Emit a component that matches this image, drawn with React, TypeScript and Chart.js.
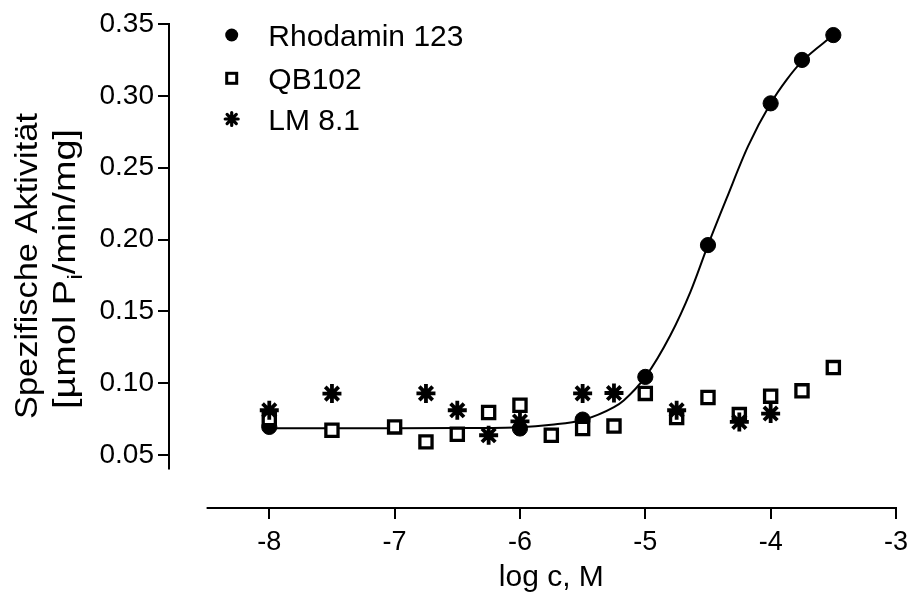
import React, { useEffect, useRef } from 'react';
import { Chart, registerables } from 'chart.js';

Chart.register(...registerables);

const FONT = "'Liberation Sans', Arial, sans-serif";

const X_TICKS = [-8, -7, -6, -5, -4, -3];
const Y_TICKS = [0.05, 0.1, 0.15, 0.2, 0.25, 0.3, 0.35];

const X_MIN = -8.8;
const X_MAX = -3;
const Y_MIN = 0.0133;
const Y_MAX = 0.35;
const X_AXIS_FROM = -8.5;
const Y_AXIS_FROM = 0.04;

const SERIES_NAMES = ['Rhodamin 123', 'QB102', 'LM 8.1'];

const RHOD_X = [-8, -6, -5.5, -5, -4.5, -4, -3.75, -3.5];
const RHOD_Y = [0.0697, 0.0686, 0.0748, 0.1045, 0.1962, 0.2948, 0.325, 0.3423];

const QB_X = [-8, -7.5, -7, -6.75, -6.5, -6.25, -6, -5.75, -5.5, -5.25, -5, -4.75, -4.5, -4.25, -4, -3.75, -3.5];
const QB_Y = [0.0755, 0.0674, 0.0697, 0.0593, 0.0646, 0.0797, 0.0848, 0.0639, 0.0686, 0.0703, 0.093, 0.0762, 0.0902, 0.0783, 0.0911, 0.0948, 0.111];

const LM_X = [-8, -7.5, -6.75, -6.5, -6.25, -6, -5.5, -5.25, -4.75, -4.25, -4];
const LM_Y = [0.0813, 0.0929, 0.093, 0.0813, 0.0639, 0.0735, 0.093, 0.0933, 0.0813, 0.0732, 0.079];

const FIT_X = [-8, -7, -6.5, -6, -5.75, -5.5, -5.25, -5.17, -5, -4.8, -4.64, -4.5, -4.35, -4.18, -4, -3.87, -3.75, -3.5];
const FIT_Y = [0.0688, 0.0688, 0.0689, 0.0695, 0.0712, 0.0745, 0.0835, 0.0883, 0.1045, 0.1335, 0.1637, 0.1962, 0.229, 0.265, 0.2948, 0.3115, 0.324, 0.3423];

const X_TITLE = 'log c, M';
const Y_TITLE_1 = 'Spezifische Aktivität';
const Y_TITLE_2_PRE = '[µmol P';
const Y_TITLE_2_SUB = 'i';
const Y_TITLE_2_POST = '/min/mg]';

const zip = (xs: number[], ys: number[]) => xs.map((x, i) => ({ x, y: ys[i] }));

const decorPlugin = {
  id: 'decor',
  afterDraw(chart: any) {
    const ctx: CanvasRenderingContext2D = chart.ctx;
    const { left, top, bottom } = chart.chartArea;
    const xs = chart.scales.x;
    const ys = chart.scales.y;
    ctx.save();
    ctx.strokeStyle = '#000';
    ctx.fillStyle = '#000';
    ctx.lineWidth = 2;
    const xa0 = xs.getPixelForValue(X_AXIS_FROM);
    const xa1 = xs.getPixelForValue(X_MAX);
    ctx.beginPath();
    ctx.moveTo(xa0, bottom);
    ctx.lineTo(xa1 + 1, bottom);
    ctx.stroke();
    ctx.beginPath();
    ctx.moveTo(left, ys.getPixelForValue(Y_AXIS_FROM));
    ctx.lineTo(left, ys.getPixelForValue(Y_MAX) - 1);
    ctx.stroke();

    ctx.font = `30px ${FONT}`;
    ctx.textAlign = 'center';
    ctx.textBaseline = 'alphabetic';
    ctx.fillText(X_TITLE, (xa0 + xa1) / 2, 586);

    const cy = (top + bottom) / 2;
    ctx.save();
    ctx.translate(37, cy);
    ctx.rotate(-Math.PI / 2);
    ctx.font = `31px ${FONT}`;
    const l1 = ctx.measureText(Y_TITLE_1).width;
    ctx.scale(306 / l1, 1);
    ctx.textAlign = 'center';
    ctx.fillText(Y_TITLE_1, 0, 0);
    ctx.restore();

    ctx.save();
    ctx.translate(75, cy + 3);
    ctx.rotate(-Math.PI / 2);
    ctx.textAlign = 'left';
    ctx.font = `31px ${FONT}`;
    const w1 = ctx.measureText(Y_TITLE_2_PRE).width;
    const w3 = ctx.measureText(Y_TITLE_2_POST).width;
    ctx.font = `21px ${FONT}`;
    const w2 = ctx.measureText(Y_TITLE_2_SUB).width;
    const total = w1 + w2 + w3;
    ctx.scale(280 / total, 1);
    let x0 = -total / 2;
    ctx.font = `31px ${FONT}`;
    ctx.fillText(Y_TITLE_2_PRE, x0, 0);
    x0 += w1;
    ctx.font = `21px ${FONT}`;
    ctx.fillText(Y_TITLE_2_SUB, x0, 7);
    x0 += w2;
    ctx.font = `31px ${FONT}`;
    ctx.fillText(Y_TITLE_2_POST, x0, 0);
    ctx.restore();

    const mx = 231.7;
    const tx = 268.3;
    const bases = [46, 89.3, 130];
    ctx.font = `30px ${FONT}`;
    ctx.textAlign = 'left';
    ctx.textBaseline = 'alphabetic';
    SERIES_NAMES.forEach((name, i) => {
      const b = bases[i];
      const my = b - 11;
      ctx.fillText(name, tx, b);
      if (i === 0) {
        ctx.beginPath();
        ctx.arc(mx, my, 6.5, 0, Math.PI * 2);
        ctx.fill();
      } else if (i === 1) {
        ctx.lineWidth = 3;
        ctx.strokeRect(mx - 5, my - 5, 10, 10);
      } else {
        ctx.lineWidth = 3.2;
        ctx.lineCap = 'round';
        ctx.beginPath();
        for (let k = 0; k < 4; k++) {
          const a = (k * Math.PI) / 4;
          ctx.moveTo(mx - Math.cos(a) * 6.5, my - Math.sin(a) * 6.5);
          ctx.lineTo(mx + Math.cos(a) * 6.5, my + Math.sin(a) * 6.5);
        }
        ctx.stroke();
      }
    });
    ctx.restore();
  },
};

const gridOpts = {
  display: true,
  drawOnChartArea: false,
  drawTicks: true,
  tickLength: 11,
  color: '#000',
  lineWidth: 2,
};

export default function App() {
  const ref = useRef<HTMLCanvasElement>(null);
  useEffect(() => {
    if (!ref.current) return;
    const chart = new Chart(ref.current, {
      type: 'scatter',
      data: {
        datasets: [
          {
            label: SERIES_NAMES[2],
            data: zip(LM_X, LM_Y),
            pointStyle: 'star',
            pointRadius: 9.5,
            borderWidth: 3.8,
            borderColor: '#000',
            backgroundColor: '#000',
            order: 0,
          },
          {
            label: SERIES_NAMES[1],
            data: zip(QB_X, QB_Y),
            pointStyle: 'rect',
            pointRadius: 8.6,
            borderWidth: 3.3,
            borderColor: '#000',
            backgroundColor: '#fff',
            order: 1,
          },
          {
            label: SERIES_NAMES[0],
            data: zip(RHOD_X, RHOD_Y),
            pointStyle: 'circle',
            pointRadius: 7.6,
            borderWidth: 1,
            borderColor: '#000',
            backgroundColor: '#000',
            order: 2,
          },
          {
            label: 'fit',
            data: zip(FIT_X, FIT_Y),
            showLine: true,
            pointRadius: 0,
            borderWidth: 2,
            borderColor: '#000',
            cubicInterpolationMode: 'monotone',
            fill: false,
            order: 3,
          } as any,
        ],
      },
      options: {
        responsive: false,
        animation: false,
        devicePixelRatio: 1,
        events: [],
        layout: { padding: { left: 0, top: 24, right: 14, bottom: 0 } },
        plugins: { legend: { display: false }, tooltip: { enabled: false } },
        scales: {
          x: {
            type: 'linear',
            min: X_MIN,
            max: X_MAX,
            afterBuildTicks: (s: any) => {
              s.ticks = X_TICKS.map((v) => ({ value: v }));
            },
            afterFit: (s: any) => {
              s.height = 89;
              s.paddingLeft = 0;
              s.paddingRight = 0;
            },
            grid: gridOpts,
            border: { display: false },
            ticks: {
              color: '#000',
              font: { family: FONT, size: 27 },
              padding: 7,
              maxRotation: 0,
              autoSkip: false,
              callback: (v: any) => String(v),
            },
          },
          y: {
            type: 'linear',
            min: Y_MIN,
            max: Y_MAX,
            afterBuildTicks: (s: any) => {
              s.ticks = Y_TICKS.map((v) => ({ value: v }));
            },
            afterFit: (s: any) => {
              s.width = 169;
              s.paddingTop = 0;
              s.paddingBottom = 0;
            },
            grid: gridOpts,
            border: { display: false },
            ticks: {
              color: '#000',
              font: { family: FONT, size: 28 },
              padding: 4,
              autoSkip: false,
              callback: (v: any) => Number(v).toFixed(2),
            },
          },
        },
      } as any,
      plugins: [decorPlugin],
    });
    return () => chart.destroy();
  }, []);
  return (
    <div style={{ position: 'absolute', left: 0, top: 0, width: 910, height: 597 }}>
      <canvas ref={ref} width={910} height={597} style={{ display: 'block' }} />
    </div>
  );
}
